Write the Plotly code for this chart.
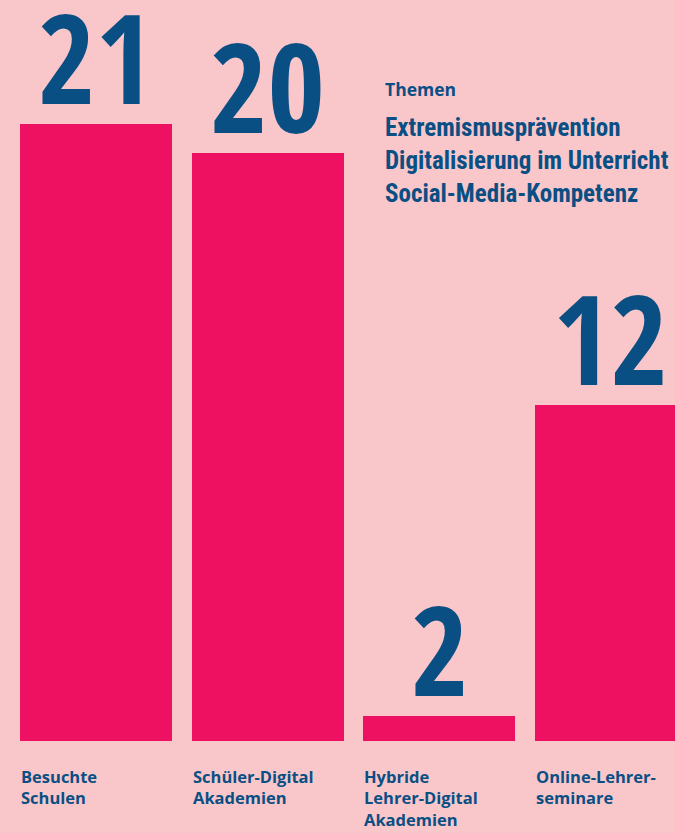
import plotly.graph_objects as go

categories = ["Besuchte<br>Schulen", "Schüler-Digital<br>Akademien",
              "Hybride<br>Lehrer-Digital<br>Akademien", "Online-Lehrer-<br>seminare"]
value_labels = ["21", "20", "2", "12"]
# bar heights as drawn in the picture (the "2" and "12" bars are drawn shorter than scale)
bar_heights = [21.0, 20.0, 0.85, 11.44]
legend_title = "Themen"
themes = ["Extremismusprävention", "Digitalisierung im Unterricht", "Social-Media-Kompetenz"]

BG = "#F9C7CA"
BAR = "#EE1162"
TXT = "#0A4F84"
W, H = 675, 833
PLOT_H = 741
BW = 0.885

x = list(range(len(categories)))

fig = go.Figure()
fig.add_trace(go.Bar(x=x, y=bar_heights, width=BW, marker=dict(color=BAR, line=dict(width=0)),
                     hoverinfo="skip"))

# value labels above the bars
for xi, h, lab in zip(x, bar_heights, value_labels):
    fig.add_annotation(x=xi, y=h, text=lab, showarrow=False, xref="x", yref="y",
                       xanchor="center", yanchor="bottom", yshift=-18,
                       font=dict(family="Open Sans Condensed", size=124, weight=800, color=TXT))

# category labels under bars, left aligned to bar edge
for xi, cat in zip(x, categories):
    fig.add_annotation(x=xi - BW / 2, y=0, text=cat, showarrow=False,
                       xref="x", yref="y", xanchor="left", yanchor="top", align="left",
                       yshift=-22, xshift=-1,
                       font=dict(family="Open Sans", size=16.5, weight="bold", color=TXT))

def py(p):
    return 1 - p / PLOT_H

fig.add_annotation(x=385 / W, y=py(89.5), xref="paper", yref="paper", text=legend_title,
                   showarrow=False, xanchor="left", yanchor="middle", xshift=-2,
                   font=dict(family="Open Sans", size=17.5, weight="bold", color=TXT))
for i, t in enumerate(themes):
    fig.add_annotation(x=385 / W, y=py(127.5 + 33 * i), xref="paper", yref="paper",
                       text=t, showarrow=False, xanchor="left", yanchor="middle",
                       xshift=-2,
                       font=dict(family="Roboto Condensed", size=25, weight="bold", color=TXT))

fig.update_layout(
    width=W, height=H, margin=dict(l=0, r=0, t=0, b=H - PLOT_H),
    paper_bgcolor=BG, plot_bgcolor=BG, showlegend=False,
    xaxis=dict(range=[-0.559, 3.373], visible=False, fixedrange=True),
    yaxis=dict(range=[0, PLOT_H / 29.38], visible=False, fixedrange=True),
    bargap=0,
)
fig.write_html("out.html", config={"displayModeBar": False},
               post_script="document.body.style.margin='0';document.body.style.overflow='hidden';")
